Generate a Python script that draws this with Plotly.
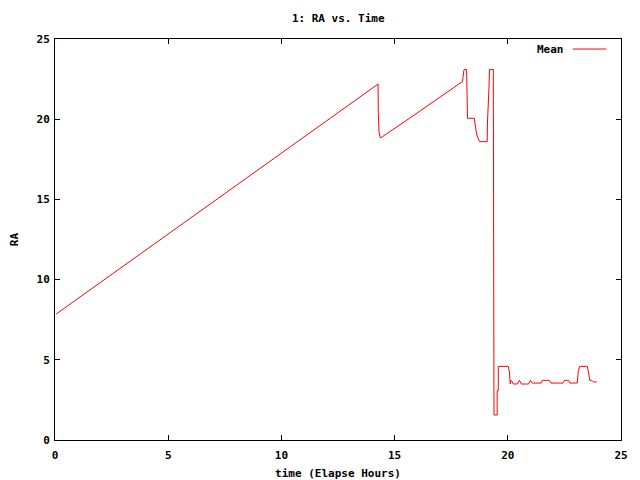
import plotly.graph_objects as go

# Elapsed time (hours) and RA mean values
time_hours = [0.05, 5.0, 10.0, 14.27, 14.28, 14.31, 14.36, 14.40, 15.65, 18.0, 18.02, 18.07,
              18.18, 18.19, 18.22, 18.52, 18.62, 18.70, 18.75, 19.09, 19.10, 19.17, 19.19,
              19.36, 19.36, 19.39, 19.39, 19.53, 19.53, 19.58, 19.58,
              20.02, 20.07, 20.11, 20.14, 20.20, 20.24, 20.42, 20.51, 20.60, 20.92, 21.00,
              21.08, 21.47, 21.52, 21.83, 21.91, 22.44, 22.50, 22.69, 22.75, 23.07, 23.11,
              23.17, 23.51, 23.56, 23.62, 23.71, 23.78, 23.93]
ra_mean = [7.85, 12.85, 17.85, 22.19, 20.37, 19.26, 18.85, 18.85, 20.05, 22.35, 22.6, 23.1,
           23.1, 20.8, 20.06, 20.06, 19.08, 18.77, 18.6, 18.6, 19.7, 22.0, 23.1,
           23.1, 12.36, 12.3, 1.56, 1.56, 3.07, 3.07, 4.59,
           4.59, 4.26, 3.49, 3.72, 3.62, 3.49, 3.49, 3.72, 3.49, 3.49, 3.72,
           3.55, 3.55, 3.72, 3.72, 3.55, 3.55, 3.72, 3.72, 3.55, 3.55, 4.26,
           4.59, 4.59, 4.26, 3.72, 3.72, 3.62, 3.62]

x_ticks = [0, 5, 10, 15, 20, 25]
y_ticks = [0, 5, 10, 15, 20, 25]

FONT = "DejaVu Sans Mono"
fnt = dict(family=FONT, size=11, color="black", weight="bold")

fig = go.Figure()
fig.add_trace(go.Scatter(x=time_hours, y=ra_mean, mode="lines", name="Mean",
                         line=dict(color="#ff0000", width=1), showlegend=False))

axis_common = dict(showline=True, linecolor="black", linewidth=1, mirror="ticks",
                   ticks="inside", ticklen=5, tickcolor="black", tickwidth=1,
                   showgrid=False, zeroline=False, tickfont=fnt, automargin=False)

fig.update_layout(
    width=640, height=480, autosize=False,
    paper_bgcolor="white", plot_bgcolor="white",
    margin=dict(l=47, r=27, t=31, b=48),
    title=dict(text="1: RA vs. Time", x=0.516, xanchor="center", y=0.979, yanchor="middle", font=fnt),
    xaxis=dict(range=[0, 25], tickvals=x_ticks, ticklabelstandoff=5,
               title=dict(text="time (Elapse Hours)", font=fnt, standoff=8), **axis_common),
    yaxis=dict(range=[0, 25], tickvals=y_ticks, ticklabelstandoff=2,
               title=dict(text="RA", font=fnt, standoff=16), **axis_common),
    annotations=[dict(text="Mean", xref="paper", yref="paper", x=0.902, y=0.975,
                      xanchor="right", yanchor="middle", showarrow=False, font=fnt)],
    shapes=[dict(type="line", xref="paper", yref="paper", x0=0.915, x1=0.974, y0=0.975, y1=0.975,
                 line=dict(color="#ff0000", width=1))],
)

fig.write_html("out.html")
